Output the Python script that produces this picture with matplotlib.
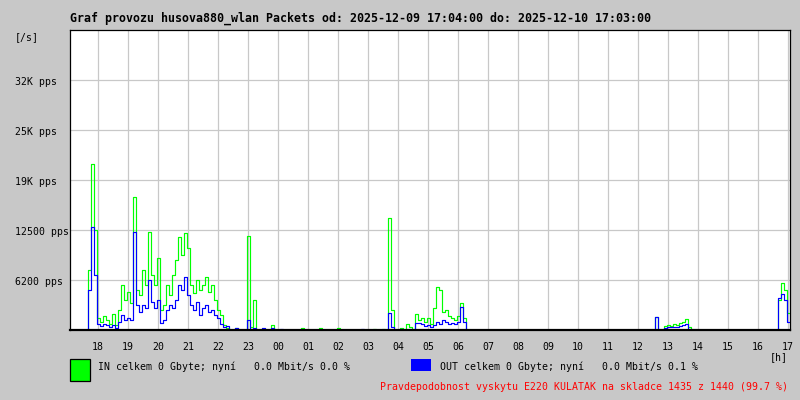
import matplotlib
matplotlib.use("Agg")
import matplotlib.pyplot as plt

# 6-minute samples from 2025-12-09 17:04 (240 samples = 24 h), values in pps
in_pps = [
    0, 0, 0, 0, 0, 0, 7500, 20750, 12500, 1500, 1000, 1750, 1250, 750, 2000, 600, 2500, 5600, 3750, 4750,
    3400, 16600, 5000, 4400, 7500, 5600, 12250, 6900, 5600, 9000, 2500, 3100, 5600, 4400, 6900, 8750, 11600, 9400, 12100, 10250,
    5600, 4600, 6250, 5000, 5600, 6600, 4750, 5600, 3750, 2500, 1900, 600, 250, 0, 0, 250, 0, 0, 0, 11750,
    400, 3750, 0, 0, 0, 0, 0, 600, 0, 0, 0, 0, 0, 0, 0, 0, 0, 250, 0, 0,
    0, 0, 0, 250, 0, 0, 0, 0, 0, 250, 0, 0, 0, 0, 0, 0, 0, 0, 0, 0,
    0, 150, 0, 0, 150, 0, 14000, 2500, 0, 0, 250, 0, 750, 400, 0, 2000, 1250, 1500, 1000, 1500,
    750, 2750, 5400, 5000, 2250, 2500, 1750, 1500, 1250, 1750, 3400, 1500, 0, 0, 0, 0, 0, 0, 0, 0,
    0, 0, 0, 0, 0, 0, 0, 0, 0, 0, 0, 0, 0, 0, 0, 0, 0, 0, 0, 0,
    0, 0, 0, 0, 0, 0, 0, 0, 0, 0, 0, 0, 0, 0, 0, 0, 0, 0, 0, 0,
    0, 0, 0, 0, 0, 0, 0, 0, 0, 0, 0, 0, 0, 0, 0, 1600, 0, 0, 500, 600,
    500, 750, 600, 900, 1000, 1400, 400, 0, 0, 0, 0, 0, 0, 0, 0, 0, 0, 0, 0, 0,
    0, 0, 0, 0, 0, 0, 0, 0, 0, 0, 0, 0, 0, 0, 0, 0, 3750, 5900, 5000, 2100,
]
out_pps = [
    0, 0, 0, 0, 0, 0, 5000, 12900, 6900, 750, 500, 750, 600, 400, 600, 250, 1000, 1900, 1250, 1500,
    1250, 12250, 3100, 2250, 3100, 2750, 6250, 3500, 2750, 3750, 900, 1250, 2500, 3100, 2750, 3750, 5600, 5000, 6600, 4400,
    3100, 2500, 3500, 1900, 2750, 3100, 2250, 2500, 1900, 1500, 750, 400, 500, 0, 0, 250, 0, 0, 0, 1250,
    150, 250, 0, 0, 250, 0, 0, 250, 0, 0, 150, 0, 0, 0, 0, 0, 0, 0, 0, 0,
    0, 0, 0, 0, 0, 0, 0, 0, 0, 0, 0, 0, 0, 0, 0, 0, 0, 150, 0, 0,
    0, 0, 0, 0, 0, 0, 2100, 400, 0, 0, 150, 0, 0, 150, 0, 900, 900, 750, 500, 600,
    400, 600, 1000, 750, 1250, 1000, 750, 900, 750, 1000, 2900, 1000, 0, 0, 0, 0, 0, 0, 0, 0,
    0, 0, 0, 0, 0, 0, 0, 0, 0, 0, 0, 0, 0, 0, 0, 0, 0, 0, 0, 0,
    0, 0, 0, 0, 0, 0, 0, 0, 0, 0, 0, 0, 0, 0, 0, 0, 0, 0, 0, 0,
    0, 0, 0, 0, 0, 0, 0, 0, 0, 0, 0, 0, 0, 0, 0, 1600, 0, 0, 250, 400,
    400, 400, 400, 500, 600, 750, 150, 0, 0, 0, 0, 0, 0, 0, 0, 0, 0, 0, 0, 0,
    0, 0, 0, 0, 0, 0, 0, 0, 0, 0, 0, 0, 0, 0, 0, 0, 4000, 4500, 3750, 1000,
]
hour_labels = ["18", "19", "20", "21", "22", "23", "00", "01", "02", "03", "04", "05",
               "06", "07", "08", "09", "10", "11", "12", "13", "14", "15", "16", "17"]
y_grid = [6250, 12500, 18750, 25000, 31250]
y_labels = ["6200 pps", "12500 pps", "19K pps", "25K pps", "32K pps"]
y_max = 37500
step_min = 6
first_hour_min = 56  # 18:00 is 56 minutes after 17:04

title = "Graf provozu husova880_wlan Packets od: 2025-12-09 17:04:00 do: 2025-12-10 17:03:00"
in_text = "IN celkem 0 Gbyte; nyní   0.0 Mbit/s 0.0 %"
out_text = "OUT celkem 0 Gbyte; nyní   0.0 Mbit/s 0.1 %"
note_text = "Pravdepodobnost vyskytu E220 KULATAK na skladce 1435 z 1440 (99.7 %)"

BG = "#c8c8c8"
MONO = "DejaVu Sans Mono"
FS = 7.15
W, H = 800, 400

fig = plt.figure(figsize=(8, 4), dpi=100, facecolor=BG)
ax = fig.add_axes([70 / W, 1 - 330 / H, 720 / W, 300 / H])
ax.set_facecolor("white")

minutes = [step_min * i + step_min / 2 for i in range(len(in_pps))]
hour_pos = [first_hour_min + 60 * k for k in range(len(hour_labels))]

for x in hour_pos:
    ax.axvline(x, color=BG, lw=0.9, zorder=1)
for y in y_grid:
    ax.axhline(y, color=BG, lw=0.9, zorder=1)

ax.step(minutes, in_pps, where="mid", color="#00ff00", lw=0.85, zorder=3)
ax.step(minutes, out_pps, where="mid", color="#0000ff", lw=0.85, zorder=4)

ax.set_xlim(0, 1440)
ax.set_ylim(0, y_max)
ax.set_xticks([])
ax.set_yticks([])
for side in ["left", "top", "right"]:
    ax.spines[side].set_linewidth(0.9)
ax.spines["bottom"].set_linewidth(1.6)
ax.spines["bottom"].set_zorder(5)

def fy(py):
    return 1 - py / H

fig.text(70 / W, fy(18), title, fontsize=8.4, fontweight="bold", family=MONO, va="center", ha="left")
fig.text(15 / W, fy(37), "[/s]", fontsize=FS, family=MONO, va="center", ha="left")
for val, lab in zip(y_grid, y_labels):
    py = 330 - val / y_max * 300 + 2
    fig.text(15 / W, fy(py), lab, fontsize=FS, family=MONO, va="center", ha="left")

for x, lab in zip(hour_pos, hour_labels):
    ax.text(x, -17 / 300, lab, transform=ax.get_xaxis_transform(), fontsize=FS,
            family=MONO, va="center", ha="center")
fig.text(788 / W, fy(357), "[h]", fontsize=FS, family=MONO, va="center", ha="right")

# legend boxes
fig.patches.append(plt.Rectangle((70 / W, fy(381)), 20 / W, 22 / H, transform=fig.transFigure,
                                 facecolor="#00ff00", edgecolor="black", lw=0.9))
fig.patches.append(plt.Rectangle((411 / W, fy(371)), 20 / W, 12 / H, transform=fig.transFigure,
                                 facecolor="#0000ff", edgecolor="none"))
fig.text(98 / W, fy(367), in_text, fontsize=FS, family=MONO, va="center", ha="left")
fig.text(440 / W, fy(367), out_text, fontsize=FS, family=MONO, va="center", ha="left")
fig.text(788 / W, fy(387), note_text, fontsize=FS, family=MONO, va="center", ha="right", color="#ff0000")

fig.savefig("out.png", dpi=100, facecolor=BG)
